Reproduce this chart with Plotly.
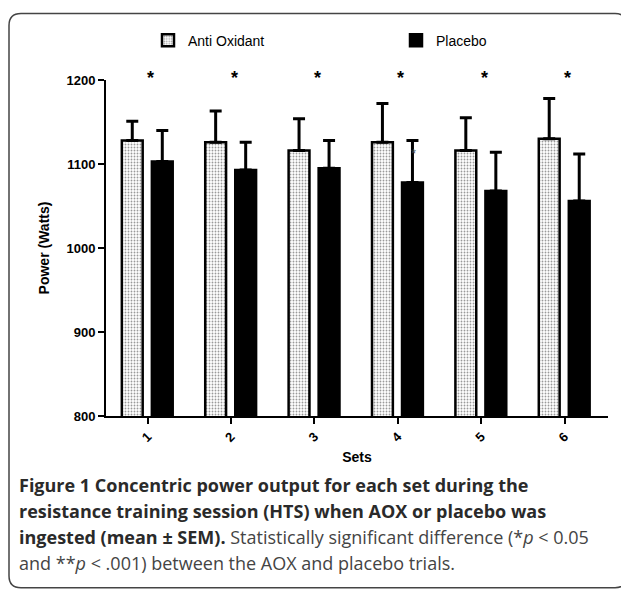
import plotly.graph_objects as go

# ---- data ----
sets = ["1", "2", "3", "4", "5", "6"]
aox_mean = [1128, 1126, 1116, 1126, 1116, 1130]
aox_sem = [23, 37, 38, 46, 39, 48]
placebo_mean = [1103, 1093, 1095, 1078, 1068, 1056]
placebo_sem = [37, 33, 33, 50, 46, 56]
sig_sets = ["1", "2", "3", "4", "5", "6"]
y_ticks = [800, 900, 1000, 1100, 1200]

# page has an 8px body margin; compensate
O = 8
W, H = 629 - O, 589 - O
L, R, T = 106 - O, 21, 79.5 - O
B = H - (416 - O)
PW, PH = W - L - R, H - T - B


def px(x):
    return (x - O - L) / PW


def py(y):
    return (H - B - (y - O)) / PH


fig = go.Figure()
fig.add_trace(go.Bar(
    x=sets, y=aox_mean, name="Anti Oxidant",
    width=0.25, offset=-0.31,
    marker=dict(color="white", line=dict(color="black", width=2.5),
                pattern=dict(shape=".", fgcolor="#333333", bgcolor="#ffffff",
                             size=3, solidity=0.3)),
    error_y=dict(type="data", array=aox_sem, arrayminus=[0] * len(aox_sem),
                 symmetric=False, color="black", thickness=3, width=6),
))
fig.add_trace(go.Bar(
    x=sets, y=placebo_mean, name="Placebo",
    width=0.25, offset=0.05,
    marker=dict(color="black", line=dict(color="black", width=2.5)),
    error_y=dict(type="data", array=placebo_sem, arrayminus=[0] * len(placebo_sem),
                 symmetric=False, color="black", thickness=3, width=6),
))

annotations = []
for i, s in enumerate(sig_sets):
    annotations.append(dict(x=i, y=py(77), xref="x", yref="paper", text="<b>*</b>",
                            showarrow=False, xshift=3,
                            font=dict(family="Liberation Sans", size=18, color="black"),
                            yanchor="middle"))
annotations.append(dict(x=3.19, y=1113, xref="x", yref="y", text="*",
                        showarrow=False,
                        font=dict(family="Liberation Sans", size=13, color="#444"),
                        yanchor="middle"))

cap_font = dict(family="Open Sans", size=18, color="#2a2a2a")
caption = [
    (485, "<b>Figure 1 Concentric power output for each set during the</b>"),
    (511, "<b>resistance training session (HTS) when AOX or placebo was</b>"),
    (537, "<b>ingested (mean ± SEM).</b> <span style='color:#444'>Statistically significant difference (*<i>p</i> &lt; 0.05</span>"),
    (563, "<span style='color:#444'>and **<i>p</i> &lt; .001) between the AOX and placebo trials.</span>"),
]
for yy, txt in caption:
    annotations.append(dict(x=px(17), y=py(yy), xref="paper", yref="paper",
                            text=txt, showarrow=False, xanchor="left",
                            yanchor="middle", font=cap_font))

# rounded frame
x0, x1, y0, y1 = 9, 627, 13, 588
r = 12
path = (f"M {px(x0)},{py(y0 + r)} Q {px(x0)},{py(y0)} {px(x0 + r)},{py(y0)} "
        f"L {px(x1 - r)},{py(y0)} Q {px(x1)},{py(y0)} {px(x1)},{py(y0 + r)} "
        f"L {px(x1)},{py(y1 - r)} Q {px(x1)},{py(y1)} {px(x1 - r)},{py(y1)} "
        f"L {px(x0 + r)},{py(y1)} Q {px(x0)},{py(y1)} {px(x0)},{py(y1 - r)} Z")

fig.update_layout(
    width=W, height=H,
    margin=dict(l=L, r=R, t=T, b=B, autoexpand=False),
    paper_bgcolor="white", plot_bgcolor="white",
    barmode="overlay",
    showlegend=True,
    legend=dict(orientation="h", x=px(148), xanchor="left", y=py(40), yanchor="middle",
                font=dict(family="Liberation Sans", size=14, color="black"),
                entrywidth=203, entrywidthmode="pixels",
                itemclick=False, traceorder="normal", bgcolor="rgba(0,0,0,0)"),
    xaxis=dict(range=[-0.5, 5.52], showline=True, linecolor="black", linewidth=2,
               ticks="outside", ticklen=6, tickwidth=2, tickcolor="black",
               tickangle=-45, showgrid=False, zeroline=False,
               tickfont=dict(family="Liberation Sans", size=13, color="black", weight="bold"),
               title=dict(text="<b>Sets</b>", standoff=8,
                          font=dict(family="Liberation Sans", size=14, color="black"))),
    yaxis=dict(range=[800, 1200], showline=True, linecolor="black", linewidth=2,
               ticks="outside", ticklen=6, tickwidth=2, tickcolor="black",
               tickvals=y_ticks, showgrid=False, zeroline=False,
               tickfont=dict(family="Liberation Sans", size=13, color="black", weight="bold"),
               title=dict(text="<b>Power (Watts)</b>", standoff=14,
                          font=dict(family="Liberation Sans", size=14, color="black"))),
    annotations=annotations,
    shapes=[dict(type="path", path=path, xref="paper", yref="paper",
                 line=dict(color="#444", width=1.5), layer="below")],
)

fig.write_html("out.html")
